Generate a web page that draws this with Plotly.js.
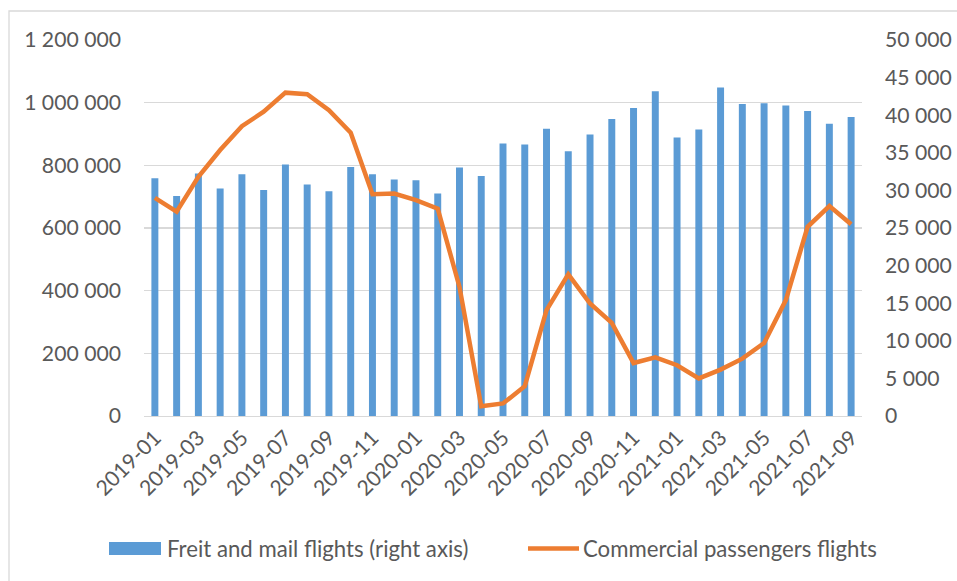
<!DOCTYPE html>
<html>
<head>
<meta charset="utf-8">
<script src="https://cdn.plot.ly/plotly-3.0.1.min.js"></script>
<style>
html,body{margin:0;padding:0;background:#fff;}
#chart{width:957px;height:581px;}
</style>
</head>
<body>
<div id="chart"></div>
<script>
const months = ["2019-01","2019-02","2019-03","2019-04","2019-05","2019-06","2019-07","2019-08","2019-09","2019-10","2019-11","2019-12",
"2020-01","2020-02","2020-03","2020-04","2020-05","2020-06","2020-07","2020-08","2020-09","2020-10","2020-11","2020-12",
"2021-01","2021-02","2021-03","2021-04","2021-05","2021-06","2021-07","2021-08","2021-09"];
const freightMail = [31600,29250,32250,30250,32150,30050,33450,30800,29900,33100,32150,31450,
31350,29600,33050,31900,36250,36100,38200,35200,37450,39500,40950,43200,
37050,38100,43700,41500,41600,41300,40550,38850,39750];
const passengers = [696000,652000,763000,849000,925000,971000,1032000,1027000,976000,904000,708000,710000,
689000,662000,412000,31000,40000,95000,338000,452000,359000,297000,169000,187000,
162000,120000,148000,183000,233000,370000,604000,670000,612000];
const tickMonths = ["2019-01","2019-03","2019-05","2019-07","2019-09","2019-11","2020-01","2020-03","2020-05","2020-07","2020-09","2020-11","2021-01","2021-03","2021-05","2021-07","2021-09"];
const seriesNames = ["Freit and mail flights (right axis)","Commercial passengers flights"];
const leftTicks = [0,200000,400000,600000,800000,1000000,1200000];
const rightTicks = [0,5000,10000,15000,20000,25000,30000,35000,40000,45000,50000];

const W = 957, H = 581;
const M = {l:144, r:95, t:40, b:165};
const pw = W - M.l - M.r, ph = H - M.t - M.b;
const px = x => (x - M.l) / pw;
const py = y => (H - M.b - y) / ph;

const BLUE = "#5B9BD5", ORANGE = "#ED7D31", GRID = "#D9D9D9", TXT = "#595959";
const FONT = "Lato, 'Open Sans', sans-serif";
const TICK = 21.2, LEG = 22.2;

const traces = [
  {type:"bar", x:months, y:freightMail, name:seriesNames[0], marker:{color:BLUE}, yaxis:"y", showlegend:false, hoverinfo:"x+y"},
  {type:"scatter", mode:"lines", x:months, y:passengers, name:seriesNames[1], line:{color:ORANGE, width:4.5}, yaxis:"y2", showlegend:false}
];

const layout = {
  width: W, height: H,
  margin: {l:M.l, r:M.r, t:M.t, b:M.b, pad:0},
  paper_bgcolor:"#fff", plot_bgcolor:"rgba(0,0,0,0)",
  separators: ", ",
  font:{family:FONT, size:TICK, color:TXT},
  bargap: 0.68,
  showlegend:false,
  xaxis:{type:"category", tickmode:"array", tickvals:tickMonths, ticktext:tickMonths, tickangle:-45,
    showgrid:false, zeroline:false, showline:true, linecolor:GRID, linewidth:1, ticks:"",
    tickfont:{family:FONT, size:TICK, color:TXT}, range:[-0.5, months.length-0.5]},
  yaxis:{side:"right", range:[0,50000], tickmode:"array", tickvals:rightTicks, tickformat:",d",
    showgrid:false, zeroline:false, showline:false, ticks:"", ticklabelstandoff:22,
    tickfont:{family:FONT, size:TICK, color:TXT}},
  yaxis2:{side:"left", overlaying:"y", range:[0,1200000], tickmode:"array", tickvals:leftTicks, tickformat:",d",
    showgrid:true, gridcolor:GRID, gridwidth:1.3, zeroline:false, showline:false, ticks:"", ticklabelstandoff:22,
    tickfont:{family:FONT, size:TICK, color:TXT}},
  shapes:[
    {type:"rect", xref:"paper", yref:"paper", x0:px(9), x1:px(990), y0:py(11), y1:py(620), line:{color:GRID, width:1.3}, fillcolor:"rgba(0,0,0,0)", layer:"below"},
    {type:"rect", xref:"paper", yref:"paper", x0:px(109), x1:px(161), y0:py(542), y1:py(555), line:{width:0}, fillcolor:BLUE},
    {type:"line", xref:"paper", yref:"paper", x0:px(528), x1:px(579), y0:py(548.5), y1:py(548.5), line:{color:ORANGE, width:4.5}}
  ],
  annotations:[
    {xref:"paper", yref:"paper", x:px(165), y:py(548.5), xanchor:"left", yanchor:"middle", showarrow:false, text:seriesNames[0], font:{family:FONT, size:LEG, color:TXT}},
    {xref:"paper", yref:"paper", x:px(581), y:py(548.5), xanchor:"left", yanchor:"middle", showarrow:false, text:seriesNames[1], font:{family:FONT, size:LEG, color:TXT}}
  ]
};

Plotly.newPlot("chart", traces, layout, {displayModeBar:false, staticPlot:true});
</script>
</body>
</html>
